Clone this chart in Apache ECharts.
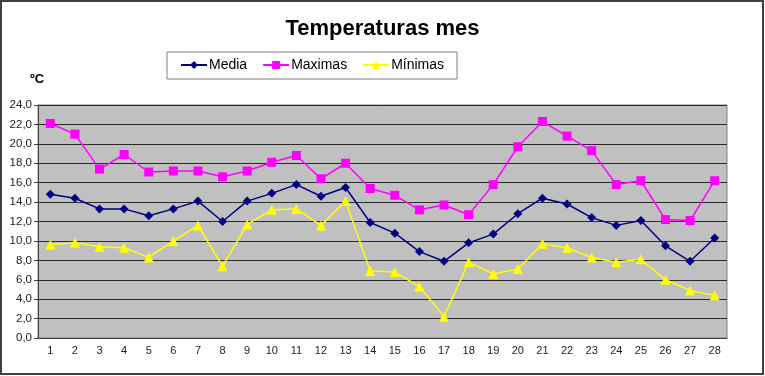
<!DOCTYPE html>
<html>
<head>
    <meta charset="utf-8">
    <script src="https://cdn.jsdelivr.net/npm/echarts@6/dist/echarts.min.js"></script>
</head>
<body style="margin:0">
    <div id="main" style="width:765px;height:376px;"></div>
    <script type="text/javascript">
    // dias del mes
    var dias = [];
    for (var d = 1; d <= 28; d++) dias.push(String(d));

    var media = [14.8, 14.4, 13.3, 13.3, 12.6, 13.3, 14.1, 12.0, 14.1, 14.9, 15.8, 14.6, 15.5, 11.9,
                 10.8, 8.9, 7.9, 9.8, 10.7, 12.8, 14.4, 13.8, 12.4, 11.6, 12.1, 9.5, 7.9, 10.3];
    var maximas = [22.1, 21.0, 17.4, 18.9, 17.1, 17.2, 17.2, 16.6, 17.2, 18.1, 18.8, 16.4, 18.0, 15.4,
                   14.7, 13.2, 13.7, 12.7, 15.8, 19.7, 22.3, 20.8, 19.3, 15.8, 16.2, 12.2, 12.1, 16.2];
    var minimas = [9.6, 9.8, 9.4, 9.3, 8.3, 10.0, 11.6, 7.4, 11.7, 13.2, 13.3, 11.6, 14.1, 6.9,
                   6.8, 5.3, 2.2, 7.8, 6.6, 7.1, 9.7, 9.3, 8.3, 7.8, 8.1, 6.0, 4.9, 4.4];

    var myChart = echarts.init(document.getElementById('main'));
    var fuente = 'Liberation Sans';

    myChart.setOption({
        animation: false,
        backgroundColor: '#fff',
        textStyle: { fontFamily: fuente },
        title: {
            text: 'Temperaturas mes',
            left: 'center',
            top: 13,
            textStyle: { fontFamily: fuente, fontSize: 22, fontWeight: 'bold', color: '#000' }
        },
        legend: {
            left: 167,
            top: 52,
            padding: [6, 13, 7, 13],
            borderColor: '#808080',
            borderWidth: 1,
            itemWidth: 26,
            itemHeight: 10,
            itemGap: 15,
            textStyle: { fontFamily: fuente, fontSize: 14, color: '#000', padding: [0, 0, 0, -3] },
            data: ['Media', 'Maximas', 'Mínimas']
        },
        graphic: [
            { type: 'rect', shape: { x: 1, y: 1, width: 762, height: 373 },
              style: { fill: 'none', stroke: '#404040', lineWidth: 2 } },
            { type: 'text', left: 30, top: 73,
              style: { text: 'ºC', fontFamily: fuente, fontSize: 13, fontWeight: 'bold', fill: '#000' } }
        ],
        grid: {
            left: 38, right: 38, top: 105, bottom: 38,
            show: true,
            backgroundColor: '#C0C0C0',
            borderColor: '#808080',
            borderWidth: 1
        },
        xAxis: {
            type: 'category',
            data: dias,
            boundaryGap: true,
            axisLine: { lineStyle: { color: '#404040', width: 1 } },
            axisTick: { length: 4, lineStyle: { color: '#404040' } },
            axisLabel: { fontSize: 11, color: '#222', margin: 7 }
        },
        yAxis: {
            type: 'value',
            min: 0, max: 24, interval: 2,
            axisLine: { show: true, lineStyle: { color: '#404040', width: 1 } },
            axisTick: { show: true, length: 4, lineStyle: { color: '#404040' } },
            axisLabel: {
                fontSize: 11.5, color: '#222', margin: 6,
                formatter: function (v) { return v.toFixed(1).replace('.', ','); }
            },
            splitLine: { lineStyle: { color: '#2a2a2a', width: 1.2 } }
        },
        series: [
            {
                name: 'Media', type: 'line', data: media,
                symbol: 'diamond', symbolSize: 9,
                itemStyle: { color: '#000080' },
                lineStyle: { color: '#000080', width: 1.5 }
            },
            {
                name: 'Maximas', type: 'line', data: maximas,
                symbol: 'rect', symbolSize: 9,
                itemStyle: { color: '#FF00FF' },
                lineStyle: { color: '#FF00FF', width: 1.5 }
            },
            {
                name: 'Mínimas', type: 'line', data: minimas,
                symbol: 'triangle', symbolSize: 10,
                itemStyle: { color: '#FFFF00' },
                lineStyle: { color: '#FFFF00', width: 1.5 }
            }
        ]
    });
    </script>
</body>
</html>
